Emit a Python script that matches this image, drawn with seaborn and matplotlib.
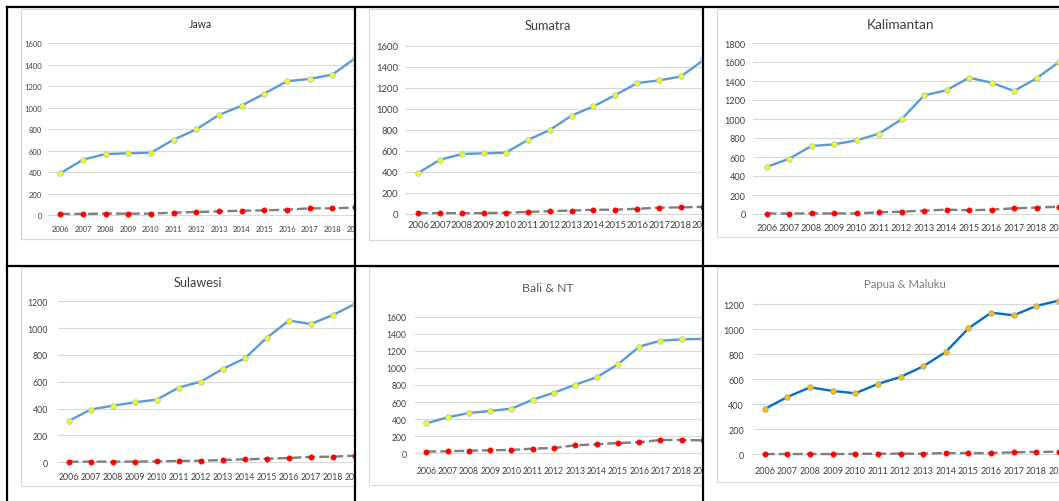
import matplotlib
matplotlib.use("Agg")
import matplotlib.pyplot as plt
import pandas as pd
import seaborn as sns
from matplotlib.patches import Rectangle
from matplotlib.lines import Line2D
from matplotlib import font_manager as fm

# ---- data -------------------------------------------------------------
years = [2006, 2007, 2008, 2009, 2010, 2011, 2012,
         2013, 2014, 2015, 2016, 2017, 2018, 2019]
titles = ["Jawa", "Sumatra", "Kalimantan", "Sulawesi", "Bali & NT", "Papua & Maluku"]

jawa_upper = [388, 516, 568, 575, 581, 702, 798, 932, 1019, 1131, 1246, 1268, 1308, 1460]
jawa_lower = [10, 10, 13, 13, 13, 22, 28, 34, 40, 43, 50, 62, 62, 70]
sumatra_upper = [390, 516, 570, 577, 583, 703, 798, 935, 1023, 1131, 1245, 1270, 1308, 1460]
sumatra_lower = [8, 8, 8, 9, 12, 20, 27, 33, 40, 41, 50, 60, 63, 68]
kalimantan_upper = [495, 582, 716, 733, 775, 846, 996, 1249, 1302, 1435, 1382, 1295, 1428, 1600]
kalimantan_lower = [5, 5, 6, 6, 6, 18, 25, 35, 46, 39, 46, 60, 67, 77]
sulawesi_upper = [308, 393, 422, 447, 467, 557, 601, 696, 775, 929, 1056, 1031, 1098, 1180]
sulawesi_lower = [5, 5, 5, 5, 7, 10, 12, 17, 22, 27, 32, 40, 42, 50]
bali_upper = [351, 421, 472, 496, 523, 628, 710, 804, 890, 1042, 1249, 1319, 1335, 1340]
bali_lower = [20, 23, 31, 35, 39, 55, 62, 94, 105, 121, 129, 156, 156, 152]
papua_upper = [363, 459, 536, 507, 488, 563, 619, 704, 819, 1008, 1133, 1112, 1187, 1230]
papua_lower = [2, 2, 2, 2, 3, 5, 5, 5, 10, 10, 10, 16, 19, 21]

y_max = [1600, 1600, 1800, 1200, 1600, 1200]
upper_series = [jawa_upper, sumatra_upper, kalimantan_upper,
                sulawesi_upper, bali_upper, papua_upper]
lower_series = [jawa_lower, sumatra_lower, kalimantan_lower,
                sulawesi_lower, bali_lower, papua_lower]


# ---- fonts ------------------------------------------------------------
def available(name):
    try:
        fm.findfont(fm.FontProperties(family=name), fallback_to_default=False)
        return True
    except ValueError:
        return False


FONT = "Lato" if available("Lato") else "DejaVu Sans"
DIGIT_EM = 0.58 if FONT == "Lato" else 0.636

# ---- layout (pixel space of a 1059 x 502 canvas) ------------------------
W, H = 1059, 502
layout = [
    # cell box, chart box, grid left, zero y, top grid y, x of first year, year step,
    # y-label right edge, x-label centre y, title centre, digit width px, title pt, title colour
    dict(cell=(7, 8, 355, 267), chart=(21, 10, 240), gl=48, zy=216, ty=44.3,
         x0=60.7, dx=23.47, ylr=42, xly=229, tpos=(200, 25),
         dw=4.4, tsize=7.6, tcol="#262626"),
    dict(cell=(355, 8, 703, 267), chart=(369, 10, 241), gl=405, zy=215, ty=46.7,
         x0=418.3, dx=22.17, ylr=398, xly=221.7, tpos=(548, 26),
         dw=5.5, tsize=9.2, tcol="#404040"),
    dict(cell=(703, 8, 1059, 267), chart=(717, 10, 238), gl=753, zy=215, ty=44,
         x0=766.7, dx=22.64, ylr=745.7, xly=227.7, tpos=(900, 25),
         dw=5.3, tsize=9.8, tcol="#404040"),
    dict(cell=(7, 267, 355, 502), chart=(21, 268, 487), gl=58, zy=463.3, ty=302.3,
         x0=69, dx=22.8, ylr=48, xly=476.7, tpos=(198, 283),
         dw=5.1, tsize=9.1, tcol="#404040"),
    dict(cell=(355, 267, 703, 502), chart=(369, 268, 486), gl=415, zy=454.3, ty=317.7,
         x0=426.7, dx=21.9, ylr=406.7, xly=470.7, tpos=(548, 289),
         dw=5.0, tsize=8.9, tcol="#595959"),
    dict(cell=(703, 267, 1059, 502), chart=(717, 268, 483), gl=753, zy=455.3, ty=305.3,
         x0=765.3, dx=23.56, ylr=744, xly=470.7, tpos=(905, 285),
         dw=5.2, tsize=8.2, tcol="#7f7f7f"),
]

styles = [
    dict(up_line="#5b9bd5", up_face="#ffff00", up_edge="#9dc3e6"),
] * 5 + [dict(up_line="#0070c0", up_face="#ffc000", up_edge="#a5a5a5")]

sns.set_style("white")
fig = plt.figure(figsize=(W / 100, H / 100), dpi=100)
fig.patch.set_facecolor("white")


def frac_rect(x0, y0, x1, y1):
    return [x0 / W, 1 - y1 / H, (x1 - x0) / W, (y1 - y0) / H]


MARGIN = 6  # px of room below zero / above top grid line

for i, (p, st) in enumerate(zip(layout, styles)):
    cx0, cy0, cx1, cy1 = p["cell"]

    # white cell with the light-grey chart frame
    bg = fig.add_axes(frac_rect(cx0, cy0, cx1, cy1), zorder=2 * i)
    bg.set_xlim(cx0, cx1)
    bg.set_ylim(cy1, cy0)
    bg.axis("off")
    bg.add_patch(Rectangle((cx0, cy0), cx1 - cx0, cy1 - cy0, facecolor="white",
                           edgecolor="none"))
    ax0, ay0, ay1 = p["chart"]
    bg.add_patch(Rectangle((ax0, ay0), cx1 + 10 - ax0, ay1 - ay0, facecolor="white",
                           edgecolor="#d9d9d9", lw=0.9))

    # plotting area
    top_px = p["ty"] - MARGIN
    bot_px = p["zy"] + MARGIN
    ax = fig.add_axes(frac_rect(p["gl"], top_px, cx1, bot_px), zorder=2 * i + 1)
    ax.patch.set_alpha(0)
    ppu = (p["zy"] - p["ty"]) / y_max[i]
    ax.set_ylim(-MARGIN / ppu, y_max[i] + MARGIN / ppu)
    ax.set_xlim(years[0] - (p["x0"] - p["gl"]) / p["dx"],
                years[0] + (cx1 - p["x0"]) / p["dx"])

    df = pd.DataFrame({"year": years, "upper": upper_series[i], "lower": lower_series[i]})
    sns.lineplot(data=df, x="year", y="lower", ax=ax, color="#7f7f7f", lw=1.7,
                 linestyle=(0, (4.2, 1.7)), marker="o", markersize=3.9,
                 markerfacecolor="#ff0000", markeredgecolor="#ff0000",
                 markeredgewidth=0.3)
    sns.lineplot(data=df, x="year", y="upper", ax=ax, color=st["up_line"], lw=1.7,
                 marker="o", markersize=4.0, markerfacecolor=st["up_face"],
                 markeredgecolor=st["up_edge"], markeredgewidth=0.6)

    ax.set_xlabel("")
    ax.set_ylabel("")
    for s in ax.spines.values():
        s.set_visible(False)
    ax.set_yticks(list(range(0, y_max[i] + 1, 200)))
    ax.set_xticks(years)
    ax.set_xticklabels([str(y) for y in years])
    ax.grid(axis="y", color="#d9d9d9", lw=0.8)
    ax.grid(axis="x", visible=False)
    ax.set_axisbelow(True)

    size_pt = p["dw"] / DIGIT_EM * 0.72
    em_px = size_pt / 0.72
    ax.tick_params(length=0, labelsize=size_pt, labelcolor="#404040",
                   labelfontfamily=FONT)
    ax.tick_params(axis="y", pad=(p["gl"] - p["ylr"]) * 0.72)
    x_pad_px = p["xly"] - 0.39 * em_px - bot_px
    ax.tick_params(axis="x", pad=max(x_pad_px, 0) * 0.72)

    # panel title
    fig.text(p["tpos"][0] / W, 1 - p["tpos"][1] / H, titles[i], ha="center", va="center",
             fontsize=p["tsize"], color=p["tcol"], family=FONT, zorder=50)

# black cell borders
black_lines = [
    ((7, 8), (1059, 8)),
    ((7, 267), (1059, 267)),
    ((7, 8), (7, 502)),
    ((355, 8), (355, 502)),
    ((703, 8), (703, 502)),
]
for (xa, ya), (xb, yb) in black_lines:
    fig.add_artist(Line2D([xa / W, xb / W], [1 - ya / H, 1 - yb / H],
                          transform=fig.transFigure, color="black", lw=1.6,
                          zorder=100, solid_capstyle="projecting"))

fig.savefig("out.png", dpi=100, facecolor="white")
